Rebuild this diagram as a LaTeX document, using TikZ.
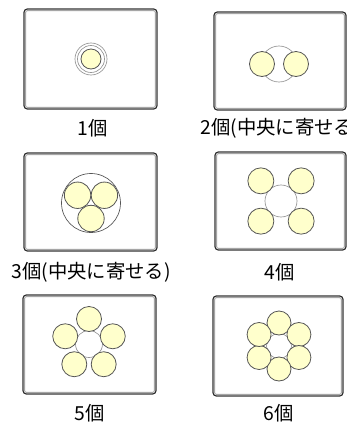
\documentclass[tikz,border=0pt]{standalone}
\usepackage{fontspec}
\setmainfont{Noto Sans CJK JP}
\definecolor{diskfill}{RGB}{255,255,204}
\definecolor{diskline}{RGB}{85,85,85}
\definecolor{holeline}{RGB}{150,150,150}

\begin{document}
\begin{tikzpicture}[x=0.75pt, y=-0.75pt,
    panel/.style={draw=black!80, line width=0.9pt, rounded corners=2.5pt, fill=white},
    panelin/.style={draw=black!35, line width=0.7pt, rounded corners=1.5pt},
    hole/.style={draw=holeline, line width=0.5pt, fill=white},
    disk/.style={draw=diskline, line width=0.6pt, fill=diskfill},
    caption/.style={font=\fontsize{14.5}{17}\selectfont, inner sep=0pt}]
    \useasboundingbox (0,0) rectangle (347,426);
    \clip (0,0) rectangle (347,426);

    % Panels
    \foreach \xa/\ya/\xb/\yb in {24/9/157/109, 214/12/346/110, 24/153/157/251,
                                 215/152/346/250, 23/295/156/394, 213/296/343/396} {
        \draw[panel] (\xa,\ya) rectangle (\xb,\yb);
        \draw[panelin] ({\xa+1.6},{\ya+1.6}) rectangle ({\xb-1.6},{\yb-1.6});
    }

    % Centres
    \coordinate (c1) at (91,59);
    \coordinate (c2) at (279,64);
    \coordinate (c3) at (91,203);
    \coordinate (c4) at (281,201);
    \coordinate (c5) at (89,344);
    \coordinate (c6) at (279,346);

    % 1
    \draw[hole] (c1) circle[radius=16];
    \draw[hole] (c1) circle[radius=13.5];
    \draw[disk] (c1) circle[radius=10];
    % 2
    \draw[hole] (c2) circle[radius=18];
    \foreach \dx in {-17,17}
        \draw[disk] (c2) ++(\dx,0) circle[radius=12.5];
    % 3
    \draw[hole, draw=diskline] (c3) circle[radius=29.5];
    \foreach \a in {-150,-30,90}
        \draw[disk] (c3) ++(\a:15.5) circle[radius=13.2];
    % 4
    \draw[hole] (c4) circle[radius=16];
    \foreach \a in {45,135,225,315}
        \draw[disk] (c4) ++(\a:28.5) circle[radius=13];
    % 5
    \draw[hole] (c5) circle[radius=13.5];
    \foreach \a in {-90,-162,-234,-306,-18}
        \draw[disk] (c5) ++(\a:25) circle[radius=12.5];
    % 6
    \draw[hole] (c6) circle[radius=12.5];
    \foreach \a in {-90,-30,30,90,150,210}
        \draw[disk] (c6) ++(\a:23) circle[radius=12];

    % Captions
    \node[caption] (t1) at (93,128) {1個};
    \node[caption] (t2) at (280,128) {2個(中央に寄せる)};
    \node[caption] (t3) at (91,272) {3個(中央に寄せる)};
    \node[caption] (t4) at (280,272) {4個};
    \node[caption] (t5) at (90,413) {5個};
    \node[caption] (t6) at (279,413) {6個};
\end{tikzpicture}
\end{document}
